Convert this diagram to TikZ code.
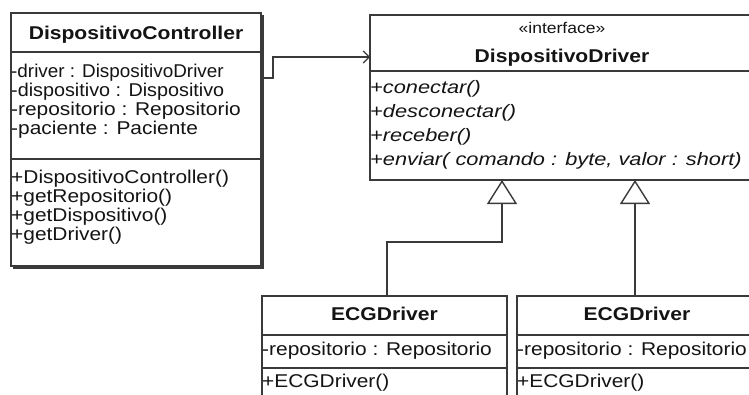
\documentclass[tikz,border=0pt]{standalone}
\usepackage{fontspec}
\setmainfont{Liberation Sans}
\newfontfamily\regfont{Liberation Sans}[FakeStretch=1.13]
\newfontfamily\midfont{Liberation Sans}[FakeStretch=1.07]
\newfontfamily\narrowfont{Liberation Sans}[FakeStretch=1.02]
\newfontfamily\ttlfont{Liberation Sans}[FakeStretch=1.14]
\newfontfamily\opfont{Liberation Sans}[FakeStretch=1.21]
\usetikzlibrary{arrows.meta}
\definecolor{edge}{HTML}{3A3A3A}
\definecolor{ink}{HTML}{141414}
\tikzset{
  part/.style={draw=edge, line width=1.4pt, fill=white, anchor=north west,
    inner sep=0pt, outer sep=0pt},
  txt/.style={anchor=base west, inner sep=0pt, text=ink, font=\regfont\fontsize{18.5}{20}\selectfont},
  txtmid/.style={txt, font=\midfont\fontsize{18.5}{20}\selectfont},
  txtnarrow/.style={txt, font=\narrowfont\fontsize{18.5}{20}\selectfont},
  ttl/.style={anchor=base, inner sep=0pt, text=ink, font=\ttlfont\fontsize{18.5}{20}\selectfont\bfseries},
  opit/.style={anchor=base west, inner sep=0pt, text=ink, font=\opfont\fontsize{18}{20}\selectfont\itshape},
  dep/.style={draw=edge, line width=1.4pt, -{Straight Barb[length=6pt,width=12pt,line width=1.2pt]}},
  gen/.style={draw=edge, line width=1.4pt, -{Triangle[open, length=24pt, width=30pt, line width=1.4pt, fill=white]}},
}
\begin{document}
\begin{tikzpicture}[x=1pt, y=-1pt]
\clip (0,0) rectangle (749,394);
\fill[white] (0,0) rectangle (749,394);

% DispositivoController
\draw[edge, line width=1.6pt] (263,15) -- (263,268) -- (13,268);
\node[part, minimum width=250pt, minimum height=39pt] (ctlHead) at (11,13) {};
\node[part, minimum width=250pt, minimum height=107pt] (ctlAttr) at (11,52) {};
\node[part, minimum width=250pt, minimum height=107pt] (ctlOps) at (11,159) {};
\node[ttl] (ctlName) at (136,39) {DispositivoController};
\node[txtnarrow] (a1) at (11,77) {-driver : DispositivoDriver};
\node[txtmid] (a2) at (11,96) {-dispositivo : Dispositivo};
\node[txt] (a3) at (11,115) {-repositorio : Repositorio};
\node[txt] (a4) at (11,134) {-paciente : Paciente};
\node[txt] (m1) at (11,183) {+DispositivoController()};
\node[txt] (m2) at (11,202) {+getRepositorio()};
\node[txt] (m3) at (11,221) {+getDispositivo()};
\node[txt] (m4) at (11,240) {+getDriver()};

% DispositivoDriver interface
\node[part, minimum width=388pt, minimum height=56pt] (ifHead) at (370,15) {};
\node[part, minimum width=388pt, minimum height=109pt] (ifOps) at (370,71) {};
\node[anchor=base, inner sep=0pt, text=ink, font=\regfont\fontsize{15.5}{17}\selectfont] (stereo) at (562,33) {«interface»};
\node[ttl] (ifName) at (562,62) {DispositivoDriver};
\node[opit] (o1) at (370,93) {+conectar()};
\node[opit] (o2) at (370,117) {+desconectar()};
\node[opit] (o3) at (370,141) {+receber()};
\node[opit] (o4) at (370,165) {+enviar( comando : byte, valor : short)};

% ECGDriver (left)
\node[part, minimum width=245pt, minimum height=39pt] (e1Head) at (262,296) {};
\node[part, minimum width=245pt, minimum height=33pt] (e1Attr) at (262,335) {};
\node[part, minimum width=245pt, minimum height=40pt] (e1Ops) at (262,368) {};
\node[ttl] (e1Name) at (384.5,320) {ECGDriver};
\node[txt] (e1a) at (262,355) {-repositorio : Repositorio};
\node[txt] (e1m) at (262,387) {+ECGDriver()};

% ECGDriver (right)
\node[part, minimum width=240pt, minimum height=39pt] (e2Head) at (517,296) {};
\node[part, minimum width=240pt, minimum height=33pt] (e2Attr) at (517,335) {};
\node[part, minimum width=240pt, minimum height=40pt] (e2Ops) at (517,368) {};
\node[ttl] (e2Name) at (637,320) {ECGDriver};
\node[txt] (e2a) at (517,355) {-repositorio : Repositorio};
\node[txt] (e2m) at (517,387) {+ECGDriver()};

% dependency controller -> driver interface
\coordinate (depStart) at (ctlAttr.east |- 0,78);
\coordinate (depEnd) at (ifHead.west |- 0,57);
\draw[dep] (depStart) -- (273,78) -- (273,57) -- (depEnd);

% realizations
\coordinate (tip1) at (ifOps.south -| 502,0);
\coordinate (tip2) at (ifOps.south -| 635,0);
\coordinate (foot1) at (e1Head.north -| 387,0);
\coordinate (foot2) at (e2Head.north -| 635,0);
\draw[gen] (foot1) |- (502,242) -- (tip1);
\draw[gen] (foot2) -- (tip2);
\end{tikzpicture}
\end{document}
